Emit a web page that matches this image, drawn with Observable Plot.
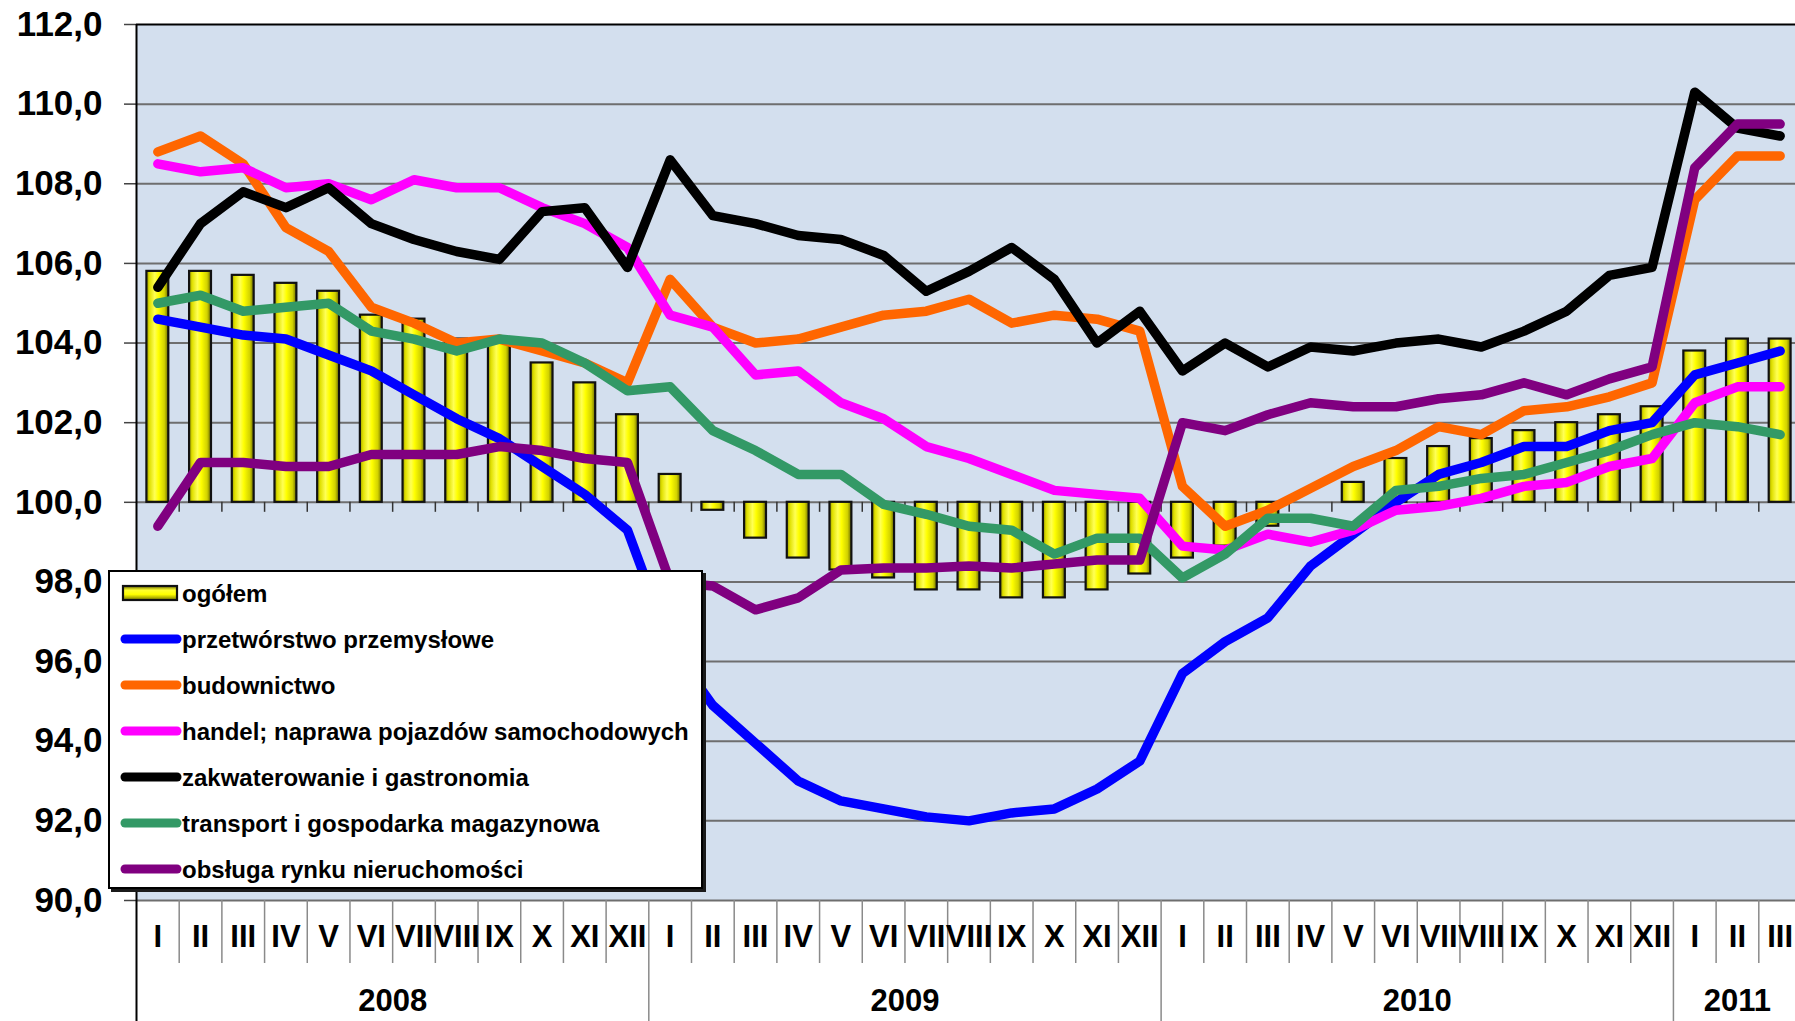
<!DOCTYPE html>
<html><head><meta charset="utf-8">
<script src="https://cdn.jsdelivr.net/npm/d3@7"></script>
<script src="https://cdn.jsdelivr.net/npm/@observablehq/plot@0.6"></script>
<style>
html,body{margin:0;padding:0;background:#fff;overflow:hidden}
#wrap{position:relative;width:1795px;height:1021px;font-family:'Liberation Sans',Arial,sans-serif}
#legend{position:absolute;left:108px;top:570px;width:591px;height:315px;background:#fff;border:2px solid #000;box-shadow:3px 3px 0 #1a1a1a}
#legend svg{display:block}
</style></head><body>
<div id="wrap"><div id="chart"></div><div id="legend"></div></div>
<script>
// ---- data ----
const months = ["I","II","III","IV","V","VI","VII","VIII","IX","X","XI","XII"];
const years = ["2008","2009","2010","2011"];
const monthsPerYear = [12, 12, 12, 3];
const yTicks = [90,92,94,96,98,100,102,104,106,108,110,112];

const ogolem = [105.8,105.8,105.7,105.5,105.3,104.7,104.6,104.1,104.1,103.5,103.0,102.2,
  100.7,99.8,99.1,98.6,98.3,98.1,97.8,97.8,97.6,97.6,97.8,98.2,
  98.6,98.9,99.4,100.0,100.5,101.1,101.4,101.6,101.8,102.0,102.2,102.4,
  103.8,104.1,104.1];
const przetworstwo = [104.6,104.4,104.2,104.1,103.7,103.3,102.7,102.1,101.6,100.9,100.2,99.3,
  96.4,94.9,93.95,93.0,92.5,92.3,92.1,92.0,92.2,92.3,92.8,93.5,
  95.7,96.5,97.1,98.4,99.2,100.0,100.7,101.0,101.4,101.4,101.8,102.0,
  103.2,103.5,103.8];
const budownictwo = [108.8,109.2,108.5,106.9,106.3,104.9,104.5,104.0,104.1,103.8,103.5,103.0,
  105.6,104.4,104.0,104.1,104.4,104.7,104.8,105.1,104.5,104.7,104.6,104.3,
  100.4,99.4,99.8,100.35,100.9,101.3,101.9,101.7,102.3,102.4,102.65,103.0,
  107.6,108.7,108.7];
const handel = [108.5,108.3,108.4,107.9,108.0,107.6,108.1,107.9,107.9,107.4,107.0,106.4,
  104.7,104.4,103.2,103.3,102.5,102.1,101.4,101.1,100.7,100.3,100.2,100.1,
  98.9,98.8,99.2,99.0,99.3,99.8,99.9,100.1,100.4,100.5,100.9,101.1,
  102.5,102.9,102.9];
const zakwaterowanie = [105.4,107.0,107.8,107.4,107.9,107.0,106.6,106.3,106.1,107.3,107.4,105.9,
  108.6,107.2,107.0,106.7,106.6,106.2,105.3,105.8,106.4,105.6,104.0,104.8,
  103.3,104.0,103.4,103.9,103.8,104.0,104.1,103.9,104.3,104.8,105.7,105.9,
  110.3,109.4,109.2];
const transport = [105.0,105.2,104.8,104.9,105.0,104.3,104.1,103.8,104.1,104.0,103.5,102.8,
  102.9,101.8,101.3,100.7,100.7,99.95,99.7,99.4,99.3,98.7,99.1,99.1,
  98.1,98.7,99.6,99.6,99.4,100.3,100.4,100.6,100.7,101.0,101.3,101.7,
  102.0,101.9,101.7];
const nieruchomosci = [99.4,101.0,101.0,100.9,100.9,101.2,101.2,101.2,101.4,101.3,101.1,101.0,
  98.0,97.9,97.3,97.6,98.3,98.35,98.35,98.4,98.35,98.45,98.55,98.55,
  102.0,101.8,102.2,102.5,102.4,102.4,102.6,102.7,103.0,102.7,103.1,103.4,
  108.4,109.5,109.5];

const barName = "ogółem";
const series = [
  {name: "przetwórstwo przemysłowe", values: przetworstwo, color: "#0000FF"},
  {name: "budownictwo", values: budownictwo, color: "#FF6600"},
  {name: "handel; naprawa pojazdów samochodowych", values: handel, color: "#FF00FF"},
  {name: "zakwaterowanie i gastronomia", values: zakwaterowanie, color: "#000000"},
  {name: "transport i gospodarka magazynowa", values: transport, color: "#339966"},
  {name: "obsługa rynku nieruchomości", values: nieruchomosci, color: "#800080"}
];

// ---- derived tables ----
const N = ogolem.length;
const idx = d3.range(N);
const barData = idx.map(i => ({i, v: ogolem[i]}));
const yearStarts = [];
{ let s = 0; for (const m of monthsPerYear) { yearStarts.push(s); s += m; } }
const yearCenters = yearStarts.map((s, k) => s + monthsPerYear[k] / 2);
const innerBounds = d3.range(1, N).filter(b => !yearStarts.includes(b));
const fmt = d => d.toFixed(1).replace(".", ",");

function gradDefs() {
  const defs = d3.create("svg:defs");
  const g = defs.append("linearGradient").attr("id", "barGrad")
    .attr("x1", 0).attr("x2", 1).attr("y1", 0).attr("y2", 0);
  [["0%","#9a9a00"],["14%","#e0e000"],["38%","#ffff55"],["55%","#ffff00"],["82%","#d2d200"],["100%","#6b6b00"]]
    .forEach(([o,c]) => g.append("stop").attr("offset", o).attr("stop-color", c));
  return defs.node();
}

const chart = Plot.plot({
  width: 1795, height: 1021,
  marginLeft: 136, marginRight: 0, marginTop: 24, marginBottom: 121,
  x: {domain: [0, N], range: [136, 1801]},
  y: {domain: [90, 112]},
  style: {fontFamily: "'Liberation Sans', Arial, sans-serif", fontWeight: "bold", color: "#000", background: "#fff", overflow: "hidden"},
  marks: [
    gradDefs,
    Plot.frame({fill: "#D3DFEE", stroke: null}),
    Plot.gridY(yTicks.filter(t => t < 112), {stroke: "#6e6e6e", strokeOpacity: 1, strokeWidth: 2}),
    Plot.ruleY([112], {stroke: "#000", strokeWidth: 2}),
    Plot.axisY({ticks: yTicks, tickFormat: fmt, tickSize: 12, tickPadding: 22, fontSize: 35, stroke: "#444", strokeWidth: 1.5, label: null}),
    // month separators in the category band
    Plot.axisX({ticks: innerBounds, tickSize: 63, tickFormat: () => "", stroke: "#8a8a8a", strokeWidth: 1.5, label: null}),
    // year separators
    Plot.axisX({ticks: yearStarts.filter(s => s > 0), tickSize: 121, tickFormat: () => "", stroke: "#8a8a8a", strokeWidth: 1.5, label: null}),
    Plot.axisX({ticks: [0], tickSize: 121, tickFormat: () => "", stroke: "#000", strokeWidth: 2, label: null}),
    // month labels
    Plot.axisX({ticks: idx.map(i => i + 0.5), tickSize: 0, tickPadding: 24, fontSize: 31,
      tickFormat: d => months[Math.floor(d) % 12], label: null}),
    // year labels
    Plot.axisX({ticks: yearCenters, tickSize: 0, tickPadding: 88, fontSize: 31,
      tickFormat: d => years[yearCenters.indexOf(d)], label: null}),
    Plot.ruleX([0], {stroke: "#000", strokeWidth: 2}),
    // bars
    Plot.rectY(barData, {x1: d => d.i, x2: d => d.i + 1, y1: 100, y2: "v",
      insetLeft: 10.4, insetRight: 10.4, fill: "url(#barGrad)", stroke: "#111", strokeWidth: 2.2}),
    // small category-axis ticks at 100
    Plot.ruleX(innerBounds.concat(yearStarts.filter(s => s > 0)), {x: d => d, y1: 100, y2: 100, insetBottom: -10, stroke: "#333", strokeWidth: 1.5}),
    // lines
    ...series.map(s => Plot.line(s.values, {x: (d, i) => i + 0.5, y: d => d,
      stroke: s.color, strokeWidth: 9.5, strokeLinecap: "round", strokeLinejoin: "round"}))
  ]
});
document.getElementById("chart").appendChild(chart);

// ---- legend (overlay box) ----
const lg = d3.select("#legend").append("svg").attr("width", 591).attr("height", 315);
const ld = lg.append("defs").append("linearGradient").attr("id", "lgGrad")
  .attr("x1", 0).attr("x2", 0).attr("y1", 0).attr("y2", 1);
[["0%","#6b6b00"],["30%","#ffff30"],["60%","#ffff00"],["100%","#7a7a00"]]
  .forEach(([o,c]) => ld.append("stop").attr("offset", o).attr("stop-color", c));
const entries = [{name: barName, bar: true}].concat(series);
entries.forEach((e, k) => {
  const cy = 21 + k * 46;
  if (e.bar) {
    lg.append("rect").attr("x", 13).attr("y", cy - 7).attr("width", 54).attr("height", 14)
      .attr("fill", "url(#lgGrad)").attr("stroke", "#111").attr("stroke-width", 2.2);
  } else {
    lg.append("line").attr("x1", 15).attr("x2", 67).attr("y1", cy).attr("y2", cy)
      .attr("stroke", e.color).attr("stroke-width", 9).attr("stroke-linecap", "round");
  }
  lg.append("text").attr("x", 72).attr("y", cy + 8.5)
    .attr("font-family", "'Liberation Sans', Arial, sans-serif").attr("font-weight", "bold")
    .attr("font-size", 24).attr("fill", "#000").text(e.name);
});
</script>
</body></html>
